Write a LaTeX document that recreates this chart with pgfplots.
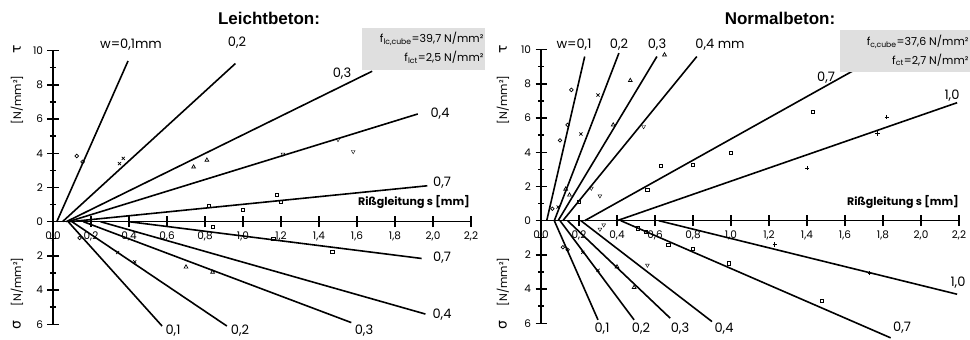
\documentclass[border=0pt]{standalone}
\usepackage{pgfplots}
\pgfplotsset{compat=1.18}
\usepackage{fontspec}
\setmainfont{Poppins}
\newfontfamily\titlefont{Liberation Sans}
\newfontfamily\greek{DejaVu Sans}
\pgfplotsset{
 beton/.style={
  x=190pt, y=17.1pt,
  xmin=0, xmax=2.2, ymin=-6, ymax=10,
  axis lines=middle,
  axis line style={-, line width=1.6pt},
  clip=false,
  xtick={0,0.2,0.4,0.6,0.8,1.0,1.2,1.4,1.6,1.8,2.0,2.2},
  xticklabels={{0,0},{0,2},{0,4},{0,6},{0,8},{1,0},{1,2},{1,4},{1,6},{1,8},{2,0},{2,2}},
  ytick={-6,-4,-2,0,2,4,6,8,10},
  yticklabels={6,4,2,0,2,4,6,8,10},
  minor ytick={-5,-3,-1,1,3,5,7,9},
  hide obscured x ticks=false, hide obscured y ticks=false,
  tick align=center,
  major tick length=11pt, minor tick length=6pt,
  every tick/.style={line width=1.4pt, black},
  ticklabel style={font=\fontsize{10.5}{12}\selectfont},
  xticklabel style={yshift=-1pt},
  yticklabel style={xshift=-1pt},
 },
 ln/.style={black, line width=1.6pt, no marks},
 mk/.style={only marks, black, mark size=1.8pt, mark options={line width=0.7pt, black, fill=white, solid}},
}
\newcommand{\lab}{\fontsize{13}{15}\selectfont}
\begin{document}
\begin{tikzpicture}[x=1pt,y=1pt]
\useasboundingbox (0,0) rectangle (970,340);
% ---------------- Leichtbeton ----------------
\begin{axis}[beton, at={(53pt,15.7pt)}, anchor=south west]
% tau side
\addplot[ln] coordinates {(0.02,0) (0.395,9.4)};
\addplot[ln] coordinates {(0.05,0) (0.96,9.25)};
\addplot[ln] coordinates {(0.07,0) (1.68,8.8)};
\addplot[ln] coordinates {(0.08,0) (1.92,6.3)};
\addplot[ln] coordinates {(0.09,0) (1.97,2.1)};
% sigma side
\addplot[ln] coordinates {(0.08,0) (0.574,-6.1)};
\addplot[ln] coordinates {(0.10,0) (0.915,-6.1)};
\addplot[ln] coordinates {(0.16,0) (1.57,-5.9)};
\addplot[ln] coordinates {(0.25,0) (1.96,-5.4)};
\addplot[ln] coordinates {(0.40,0) (1.94,-2.15)};
% marks
\addplot[mk, mark=o] coordinates {(0.125,3.84) (0.156,3.5) (0.14,-0.95)};
\addplot[mk, mark=x, mark size=2.2pt] coordinates {(0.35,3.4) (0.37,3.7) (0.34,-1.8) (0.43,-2.35)};
\addplot[mk, mark=triangle, mark size=2.2pt] coordinates {(0.74,3.2) (0.81,3.6) (0.70,-2.65) (0.84,-2.95)};
\addplot[mk, mark=triangle, mark size=2.2pt, mark options={rotate=180}] coordinates {(1.21,3.95) (1.50,4.8) (1.58,4.1)};
\addplot[mk, mark=square, mark size=1.6pt] coordinates {(0.82,0.92) (1.0,0.68) (1.18,1.55) (1.2,1.15) (0.84,-0.3) (1.16,-1.0) (1.47,-1.77)};
\end{axis}
% ---------------- Normalbeton ----------------
\begin{axis}[beton, at={(541pt,16.7pt)}, anchor=south west]
\addplot[ln] coordinates {(0.03,0) (0.23,9.6)};
\addplot[ln] coordinates {(0.07,0) (0.41,9.8)};
\addplot[ln] coordinates {(0.09,0) (0.61,9.6)};
\addplot[ln] coordinates {(0.115,0) (0.82,9.6)};
\addplot[ln] coordinates {(0.23,0) (1.68,9.0)};
\addplot[ln] coordinates {(0.40,0) (2.19,6.9)};
\addplot[ln] coordinates {(0.07,0) (0.30,-5.8)};
\addplot[ln] coordinates {(0.10,0) (0.49,-5.8)};
\addplot[ln] coordinates {(0.14,0) (0.68,-5.7)};
\addplot[ln] coordinates {(0.21,0) (0.90,-5.9)};
\addplot[ln] coordinates {(0.42,0) (1.84,-6.85)};
\addplot[ln] coordinates {(0.62,0) (2.19,-4.3)};
\addplot[mk, mark=o] coordinates {(0.10,4.7) (0.14,5.6) (0.16,7.65) (0.06,0.7) (0.115,-1.55) (0.14,-1.7)};
\addplot[mk, mark=x, mark size=2.2pt] coordinates {(0.21,5.07) (0.30,7.35) (0.09,0.8) (0.22,-1.85) (0.30,-2.9)};
\addplot[mk, mark=triangle, mark size=2.2pt] coordinates {(0.38,5.6) (0.47,8.2) (0.65,9.7) (0.13,1.85) (0.15,1.5) (0.40,-2.7) (0.49,-3.9)};
\addplot[mk, mark=triangle, mark size=2.2pt, mark options={rotate=180}] coordinates {(0.54,5.5) (0.31,1.45) (0.265,1.9) (0.31,-0.5) (0.33,-0.25) (0.56,-2.6)};
\addplot[mk, mark=square, mark size=1.6pt] coordinates {(0.2,1.1) (0.56,1.8) (0.63,3.2) (0.80,3.25) (1.0,3.95) (1.43,6.36) (0.51,-0.45) (0.55,-0.65) (0.67,-1.4) (0.80,-1.65) (0.99,-2.5) (1.48,-4.7)};
\addplot[mk, mark=+, mark size=2.2pt] coordinates {(1.40,3.07) (1.77,5.1) (1.82,6.06) (1.23,-1.4) (1.73,-3.06)};
\end{axis}
% ---------------- texts ----------------
\node[font=\titlefont\bfseries\fontsize{17}{19}\selectfont] at (269,322) {Leichtbeton:};
\node[font=\titlefont\bfseries\fontsize{17}{19}\selectfont] at (780,322) {Normalbeton:};
% y labels
\foreach \xx in {17,503} {
 \node[rotate=90, font=\greek\fontsize{14}{16}\selectfont] at (\xx,291) {τ};
 \node[rotate=90, font=\fontsize{11}{13}\selectfont] at (\xx,240) {[N/mm²]};
 \node[rotate=90, font=\fontsize{11}{13}\selectfont] at (\xx,58) {[N/mm²]};
 \node[rotate=90, font=\greek\fontsize{14}{16}\selectfont] at (\xx,15) {σ};
}
% Leicht labels
\node[font=\lab] at (131,295) {w=0,1mm};
\node[font=\lab] at (237,297) {0,2};
\node[font=\lab] at (342,266) {0,3};
\node[font=\lab] at (440,226) {0,4};
\node[font=\lab] at (442,157) {0,7};
\node[font=\lab] at (442,82) {0,7};
\node[font=\lab] at (442,25) {0,4};
\node[font=\lab] at (364,9) {0,3};
\node[font=\lab] at (240,9) {0,2};
\node[font=\lab] at (173,9) {0,1};
\node[font=\fontsize{11}{13}\selectfont\bfseries] at (414,138) {Rißgleitung s [mm]};
\fill[gray!25] (362,270) rectangle (485,312);
\node[anchor=east, font=\fontsize{11}{13}\selectfont] at (487,301) {f\textsubscript{lc,cube}=39,7 N/mm²};
\node[anchor=east, font=\fontsize{11}{13}\selectfont] at (487,283) {f\textsubscript{lct}=2,5 N/mm²};
% Normal labels
\node[font=\lab] at (574,295) {w=0,1};
\node[font=\lab] at (619,295) {0,2};
\node[font=\lab] at (657,295) {0,3};
\node[font=\lab] at (720,295) {0,4 mm};
\node[font=\lab] at (826,262) {0,7};
\node[font=\lab] at (952,244) {1,0};
\node[font=\lab] at (958,57) {1,0};
\node[font=\lab] at (902,12) {0,7};
\node[font=\lab] at (724,11) {0,4};
\node[font=\lab] at (680,11) {0,3};
\node[font=\lab] at (641,11) {0,2};
\node[font=\lab] at (602,11) {0,1};
\node[font=\fontsize{11}{13}\selectfont\bfseries] at (903,138) {Rißgleitung s [mm]};
\fill[gray!25] (840,268) rectangle (970,310);
\node[anchor=east, font=\fontsize{11}{13}\selectfont] at (972,298) {f\textsubscript{c,cube}=37,6 N/mm²};
\node[anchor=east, font=\fontsize{11}{13}\selectfont] at (972,280) {f\textsubscript{ct}=2,7 N/mm²};
\end{tikzpicture}
\end{document}
